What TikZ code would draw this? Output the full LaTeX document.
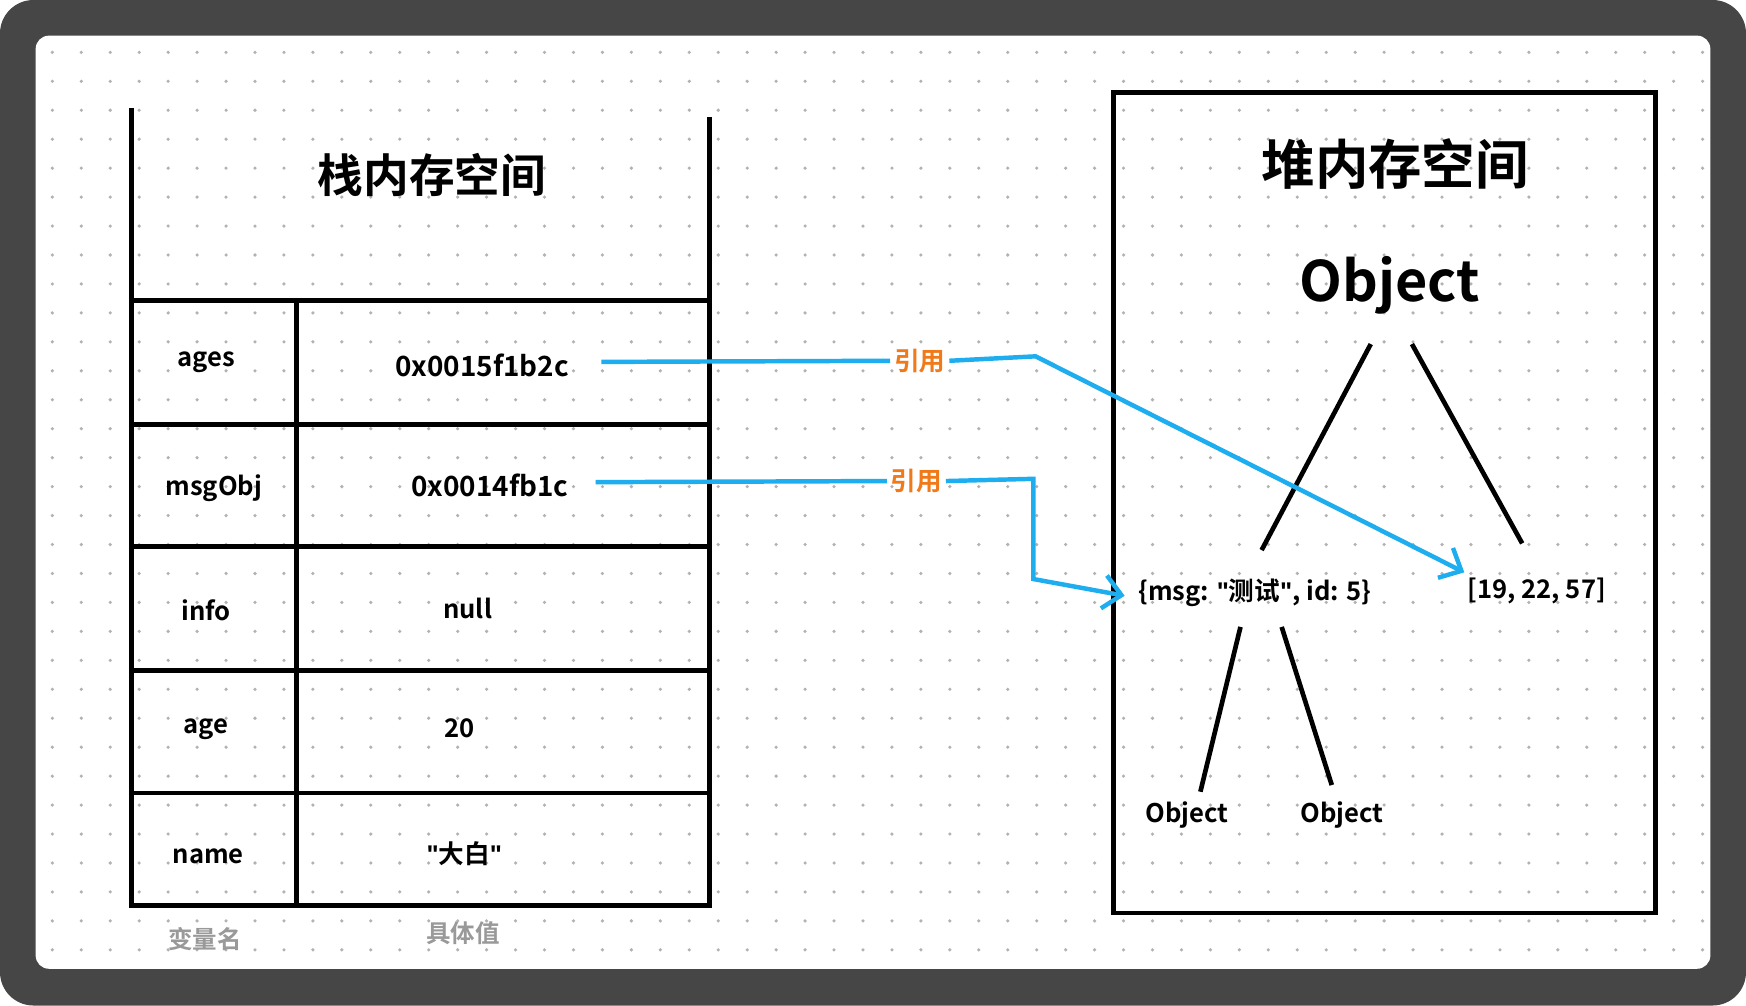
\documentclass[tikz,border=0pt]{standalone}
\usepackage{fontspec}
\setmainfont{Noto Sans CJK SC}[BoldFont={* Bold}]
\newfontfamily\lat{Liberation Sans}
\newcommand{\qq}{{\lat\bfseries"}}
\usetikzlibrary{arrows.meta}
\definecolor{blu}{HTML}{1EADEF}
\definecolor{org}{HTML}{F07A1A}
\tikzset{
 ln/.style={line width=4.2pt,black},
 lbl/.style={font=\bfseries\fontsize{23}{23}\selectfont},
 sub/.style={font=\bfseries\fontsize{22}{22}\selectfont,text=gray!80},
 ref/.style={font=\bfseries\fontsize{23}{23}\selectfont,text=org},
 arr/.style={line width=4pt,blu},
 arrh/.style={line width=4pt,blu,-{Straight Barb[length=16pt,width=30pt,line width=4pt]}}
}
\begin{document}
\begin{tikzpicture}[x=1pt,y=-1pt]
\useasboundingbox (0,0) rectangle (1568,903);
\fill[gray!55!black,rounded corners=30pt] (0,0) rectangle (1568,903);
\fill[white,rounded corners=12pt] (32,32) rectangle (1536,870);
\foreach \i in {0,...,57}{\foreach \j in {0,...,31}{
 \fill[gray!60] (47+26*\i,47+26*\j) circle (1.6pt);}}
% stack
\draw[ln] (118,97) -- (118,813) -- (637,813) -- (637,105);
\foreach \y in {270,381,491,602,712}{\draw[ln] (118,\y) -- (637,\y);}
\draw[ln] (266,270) -- (266,813);
\node[font=\bfseries\fontsize{41}{41}\selectfont] (st) at (388,157) {栈内存空间};
\node[lbl] (k1) at (185,325) {ages};
\node[lbl] (k2) at (192,438) {msgObj};
\node[lbl] (k3) at (185,548) {info};
\node[lbl] (k4) at (185,655) {age};
\node[lbl] (k5) at (187,769) {name};
\node[lbl,font=\bfseries\fontsize{25}{25}\selectfont] (v1) at (433,328) {0x0015f1b2c};
\node[lbl,font=\bfseries\fontsize{25}{25}\selectfont] (v2) at (440,436) {0x0014fb1c};
\node[lbl] (v3) at (420,546) {null};
\node[lbl] (v4) at (413,654) {20};
\node[lbl] (v5) at (417,767) {\qq 大白\qq};
\node[sub] (s1) at (184,843) {变量名};
\node[sub] (s2) at (416,838) {具体值};
% heap
\draw[ln] (1000,83) rectangle (1487,820);
\node[font=\bfseries\fontsize{48}{48}\selectfont] (ht) at (1253,147) {堆内存空间};
\node[font=\bfseries\fontsize{50}{50}\selectfont] (ob) at (1248,256) {Object};
\node[lbl] (msg) at (1127,532) {\{msg: \qq 测试\qq, id: 5\}};
\node[lbl] (arr) at (1380,531) {[19, 22, 57]};
\node[lbl] (o1) at (1066,732) {Object};
\node[lbl] (o2) at (1205,732) {Object};
\draw[ln] (1231,309) -- (1133,494);
\draw[ln] (1268,309) -- (1367,488);
\draw[ln] (1114,563) -- (1078,711);
\draw[ln] (1151,563) -- (1196,705);
% refs
\node[ref] (r1) at (826,324) {引用};
\node[ref] (r2) at (823,432) {引用};
\draw[arr] (540,325) -- (r1.west);
\draw[arrh] (r1.east) -- (930,320) -- (1315,514);
\draw[arr] (535,433) -- (r2.west);
\draw[arrh] (r2.east) -- (928,430) -- (928,520) -- (1010,535);
\end{tikzpicture}
\end{document}
